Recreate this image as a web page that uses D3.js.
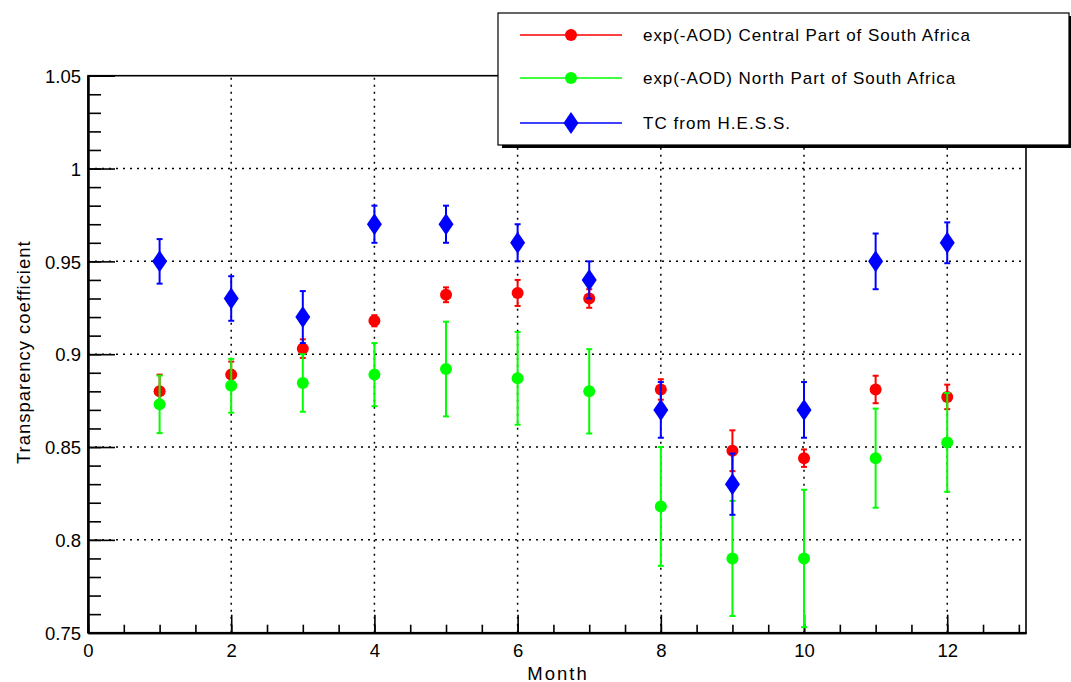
<!DOCTYPE html>
<html>
<head>
<meta charset="utf-8">
<script src="https://cdn.jsdelivr.net/npm/d3@7"></script>
<style>
  html, body { margin: 0; padding: 0; background: #fff; }
  svg { display: block; font-family: "Liberation Sans", Arial, sans-serif; }
</style>
</head>
<body>
<svg id="chart" width="1071" height="682"></svg>
<script>
// ---- data ----
const months = [1, 2, 3, 4, 5, 6, 7, 8, 9, 10, 11, 12];
const centralValues = [0.880, 0.889, 0.903, 0.918, 0.932, 0.933, 0.930, 0.881, 0.848, 0.844, 0.881, 0.877];
const centralErrors = [0.009, 0.007, 0.005, 0.003, 0.004, 0.007, 0.005, 0.0055, 0.011, 0.0047, 0.0074, 0.0066];
const northValues = [0.873, 0.883, 0.8845, 0.889, 0.892, 0.887, 0.880, 0.818, 0.790, 0.790, 0.844, 0.8525];
const northErrors = [0.0155, 0.0145, 0.0155, 0.017, 0.0255, 0.025, 0.0227, 0.032, 0.031, 0.037, 0.0267, 0.0266];
const hessValues = [0.95, 0.93, 0.92, 0.97, 0.97, 0.96, 0.94, 0.87, 0.83, 0.87, 0.95, 0.96];
const hessErrors = [0.012, 0.012, 0.014, 0.01, 0.01, 0.01, 0.01, 0.015, 0.0165, 0.015, 0.015, 0.011];
const seriesNames = ["exp(-AOD) Central Part of South Africa", "exp(-AOD) North Part of South Africa", "TC from H.E.S.S."];
const xTickValues = [0, 2, 4, 6, 8, 10, 12];
const yTickValues = [0.75, 0.8, 0.85, 0.9, 0.95, 1, 1.05];
const xTitle = "Month";
const yTitle = "Transparency coefficient";

// ---- layout ----
const svg = d3.select("#chart");
const L = 88, R = 1026, T = 75.7, B = 632.7;
const x = d3.scaleLinear().domain([0, 13.1]).range([L, R]);
const y = d3.scaleLinear().domain([0.75, 1.05]).range([B, T]);
const FS = 18.5;

// widen text slightly to mimic the wider original renderer
function widen(sel, factor) {
  sel.each(function () {
    const w = this.getComputedTextLength();
    d3.select(this).attr("textLength", w * factor).attr("lengthAdjust", "spacing");
  });
}

// grid
const grid = svg.append("g").attr("stroke", "#000").attr("stroke-width", 1.5).attr("stroke-dasharray", "2,5");
grid.selectAll("line.gx").data(xTickValues.filter(d => d > 0)).join("line")
  .attr("x1", d => x(d)).attr("x2", d => x(d)).attr("y1", B).attr("y2", T);
grid.selectAll("line.gy").data(yTickValues.filter(d => d > 0.75 && d < 1.05)).join("line")
  .attr("y1", d => y(d)).attr("y2", d => y(d)).attr("x1", L).attr("x2", R);

// frame
svg.append("rect").attr("x", L).attr("y", T).attr("width", R - L).attr("height", B - T)
  .attr("fill", "none").attr("stroke", "#000").attr("stroke-width", 1.6);

// axes
function styleAxis(g) {
  g.select(".domain").attr("stroke", "#000").attr("stroke-width", 2);
  g.selectAll(".tick line").attr("stroke", "#000").attr("stroke-width", 1.6);
  g.selectAll("text").attr("fill", "#000").attr("font-size", FS).attr("font-family", "Liberation Sans, Arial, sans-serif");
}
const xMinor = svg.append("g").attr("transform", `translate(0,${B})`)
  .call(d3.axisBottom(x).tickValues(d3.range(0, 13.01, 0.5)).tickSizeInner(-8).tickSizeOuter(0).tickFormat(""));
styleAxis(xMinor);
const xMajor = svg.append("g").attr("transform", `translate(0,${B})`)
  .call(d3.axisBottom(x).tickValues(xTickValues).tickSizeInner(-18).tickSizeOuter(0).tickPadding(11).tickFormat(d3.format("d")));
styleAxis(xMajor);

const yMinor = svg.append("g").attr("transform", `translate(${L},0)`)
  .call(d3.axisLeft(y).tickValues(d3.range(75, 105.01, 1).map(v => v / 100)).tickSizeInner(-13).tickSizeOuter(0).tickFormat(""));
styleAxis(yMinor);
const yMajor = svg.append("g").attr("transform", `translate(${L},0)`)
  .call(d3.axisLeft(y).tickValues(yTickValues).tickSizeInner(-27).tickSizeOuter(0).tickPadding(7).tickFormat(d3.format("~g")));
styleAxis(yMajor);
yMajor.selectAll("text").attr("dy", "0.36em");

// titles
svg.append("text").attr("x", (L + R) / 2).attr("y", 679.5).attr("text-anchor", "middle")
  .attr("font-size", FS).text(xTitle).call(widen, 1.16);
svg.append("text").attr("transform", `translate(30,${(T + B) / 2 - 1.5}) rotate(-90)`).attr("text-anchor", "middle")
  .attr("font-size", FS).text(yTitle).call(widen, 1.11);

// series
const series = [
  { vals: centralValues, errs: centralErrors, color: "#ff0000", shape: "circle" },
  { vals: northValues, errs: northErrors, color: "#00ff00", shape: "circle" },
  { vals: hessValues, errs: hessErrors, color: "#0000ff", shape: "diamond" }
];
const diamond = "M0,-11L7.5,0L0,11L-7.5,0Z";

series.forEach(s => {
  const data = months.map((m, i) => ({ m, v: s.vals[i], e: s.errs[i] }));
  const g = svg.append("g");
  const eb = g.selectAll("g.eb").data(data).join("g").attr("stroke", s.color).attr("stroke-width", 2);
  eb.append("line").attr("x1", d => x(d.m)).attr("x2", d => x(d.m))
    .attr("y1", d => y(d.v - d.e)).attr("y2", d => y(d.v + d.e));
  eb.append("line").attr("x1", d => x(d.m) - 3).attr("x2", d => x(d.m) + 3)
    .attr("y1", d => y(d.v + d.e)).attr("y2", d => y(d.v + d.e));
  eb.append("line").attr("x1", d => x(d.m) - 3).attr("x2", d => x(d.m) + 3)
    .attr("y1", d => y(d.v - d.e)).attr("y2", d => y(d.v - d.e));
  if (s.shape === "circle") {
    g.selectAll("circle").data(data).join("circle")
      .attr("cx", d => x(d.m)).attr("cy", d => y(d.v)).attr("r", 6).attr("fill", s.color);
  } else {
    g.selectAll("path.mk").data(data).join("path")
      .attr("d", diamond).attr("transform", d => `translate(${x(d.m)},${y(d.v)})`).attr("fill", s.color);
  }
});

// legend
const lg = svg.append("g");
lg.append("rect").attr("x", 502).attr("y", 16).attr("width", 571).attr("height", 132).attr("fill", "#000");
lg.append("rect").attr("x", 498).attr("y", 13).attr("width", 571).attr("height", 132)
  .attr("fill", "#fff").attr("stroke", "#000").attr("stroke-width", 1.2);
const rowsY = [35, 78, 123];
series.forEach((s, i) => {
  const ry = rowsY[i];
  lg.append("line").attr("x1", 520).attr("x2", 622).attr("y1", ry).attr("y2", ry)
    .attr("stroke", s.color).attr("stroke-width", 1.3);
  if (s.shape === "circle") {
    lg.append("circle").attr("cx", 571).attr("cy", ry).attr("r", 6).attr("fill", s.color);
  } else {
    lg.append("path").attr("d", diamond).attr("transform", `translate(571,${ry})`).attr("fill", s.color);
  }
  lg.append("text").attr("x", 643).attr("y", ry + 6).attr("font-size", 17).attr("fill", "#000")
    .text(seriesNames[i]).call(widen, 1.12);
});
</script>
</body>
</html>
